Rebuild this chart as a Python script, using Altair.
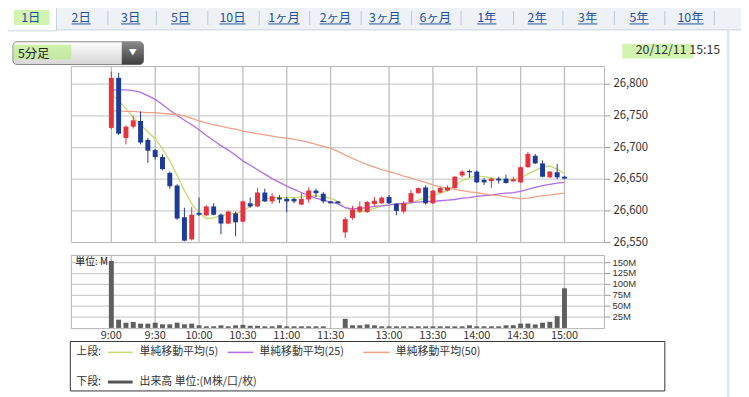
import altair as alt
import pandas as pd

# ---------------- data ----------------
IDX = list(range(63))
OPEN = [26731, 26810, 26715, 26733, 26742, 26712, 26696, 26685, 26660, 26640,
        26590, 26555, 26597, 26593, 26607, 26594, 26580, 26596, 26583, 26612,
        26607, 26629, 26615, 26621, 26619, 26619, 26610, 26618, 26632, 26627,
        26615, 26615, 26566, 26589, 26599, 26598, 26611, 26612, 26622, 26611,
        26599, 26614, 26628, 26637, 26612, 26629, 26632, 26636, 26656, 26663,
        26662, 26649, 26647, 26651, 26651, 26647, 26645, 26669, 26687, 26675,
        26653, 26661, 26654]
CLOSE = [26810, 26722, 26733, 26743, 26708, 26695, 26685, 26666, 26639, 26588,
         26553, 26594, 26594, 26607, 26594, 26580, 26599, 26582, 26615, 26607,
         26629, 26615, 26623, 26618, 26615, 26615, 26619, 26632, 26628, 26615,
         26612, 26612, 26587, 26602, 26607, 26614, 26616, 26621, 26612, 26600,
         26612, 26628, 26636, 26612, 26632, 26636, 26637, 26654, 26662, 26661,
         26645, 26645, 26651, 26648, 26644, 26650, 26669, 26690, 26675, 26654,
         26662, 26653, 26651]
HIGH = [26820, 26818, 26735, 26750, 26757, 26715, 26698, 26689, 26662, 26642,
        26605, 26606, 26621, 26609, 26612, 26596, 26600, 26599, 26616, 26621,
        26636, 26635, 26628, 26625, 26622, 26621, 26628, 26637, 26635, 26630,
        26615, 26615, 26590, 26608, 26615, 26616, 26622, 26623, 26625, 26612,
        26615, 26633, 26637, 26640, 26633, 26638, 26640, 26655, 26664, 26665,
        26664, 26652, 26652, 26654, 26657, 26654, 26670, 26693, 26690, 26680,
        26663, 26674, 26655]
LOW = [26729, 26720, 26705, 26730, 26705, 26676, 26681, 26664, 26635, 26586,
       26552, 26553, 26592, 26592, 26593, 26563, 26579, 26560, 26582, 26605,
       26606, 26614, 26611, 26612, 26598, 26612, 26609, 26613, 26622, 26612,
       26612, 26612, 26557, 26586, 26597, 26597, 26608, 26611, 26611, 26593,
       26596, 26613, 26627, 26610, 26611, 26628, 26631, 26635, 26653, 26653,
       26644, 26641, 26636, 26643, 26643, 26646, 26644, 26668, 26674, 26653,
       26652, 26650, 26650]
VOLUME = [154, 19, 12, 13.6, 9.8, 9.8, 12, 8.3, 8.3, 12,
          8.3, 9.8, 6, 3.7, 3.7, 6, 3.7, 6, 7, 5,
          5, 3.7, 3.7, 6, 3.7, 3.7, 3.7, 3.7, 3.7, 3.7,
          0, 0, 21, 6, 6, 8, 6, 3.7, 3.7, 3.7,
          3.7, 3.7, 3.7, 3.7, 3.7, 3.7, 3.7, 3.7, 3.7, 6,
          3.7, 3.7, 3.7, 3.7, 6, 6, 10, 10, 8, 12,
          14, 27, 91]
MA5 = [26785, 26774, 26761, 26748, 26736, 26725, 26714, 26698, 26679, 26656,
       26632, 26611, 26597, 26588, 26589, 26593, 26594, 26596, 26600, 26607,
       26613, 26618, 26621, 26621, 26621, 26621, 26622, 26623, 26624, 26622,
       26620, 26615, 26605, 26600, 26598, 26600, 26604, 26608, 26610, 26611,
       26610, 26612, 26617, 26621, 26624, 26628, 26632, 26640, 26648, 26653,
       26655, 26654, 26652, 26650, 26649, 26649, 26652, 26658, 26664, 26669,
       26671, 26666, 26659]
MA25 = [26791, 26791, 26791, 26790, 26787, 26782, 26776, 26768, 26759, 26751,
        26743, 26736, 26728, 26719, 26711, 26703, 26696, 26688, 26679, 26672,
        26665, 26658, 26651, 26645, 26639, 26634, 26629, 26624, 26620, 26617,
        26614, 26611, 26605, 26603, 26604, 26605, 26607, 26608, 26609, 26611,
        26612, 26613, 26614, 26615, 26615, 26616, 26617, 26618, 26620, 26621,
        26623, 26624, 26625, 26627, 26628, 26629, 26631, 26634, 26637, 26640,
        26642, 26644, 26645]
MA50 = [26758, 26758, 26757, 26757, 26756, 26755, 26755, 26754, 26753, 26752,
        26750, 26746, 26742, 26739, 26736, 26734, 26731, 26729, 26726, 26724,
        26722, 26720, 26718, 26716, 26715, 26713, 26711, 26708, 26705, 26702,
        26699, 26694, 26688, 26683, 26678, 26673, 26669, 26665, 26662, 26659,
        26655, 26652, 26648, 26645, 26641, 26638, 26636, 26634, 26632, 26630,
        26629, 26627, 26625, 26624, 26622, 26621, 26619, 26620, 26622, 26624,
        26625, 26627, 26628]
TIME_LABELS = ["9:00", "9:30", "10:00", "10:30", "11:00", "11:30",
               "13:00", "13:30", "14:00", "14:30", "15:00"]
TIME_IDX = [0, 6, 12, 18, 24, 30, 38, 44, 50, 56, 62]
PRICE_TICKS = [26550, 26600, 26650, 26700, 26750, 26800]
VOL_TICKS = [25, 50, 75, 100, 125, 150]
TABS = ["1日", "2日", "3日", "5日", "10日", "1ヶ月", "2ヶ月", "3ヶ月",
        "6ヶ月", "1年", "2年", "3年", "5年", "10年"]
MA_NAMES = ["単純移動平均(5)", "単純移動平均(25)", "単純移動平均(50)"]
VOL_NAME = "出来高 単位:(M株/口/枚)"
INTERVAL = "5分足"
STAMP = "20/12/11 15:15"

# ---------------- layout / style ----------------
M = 8  # page margin
def P(v):
    return v - M

FONT = "Noto Sans CJK JP"
RED, BLUE = "#e5323f", "#1d3b98"
MA_COLORS = ["#c5db6c", "#b06de6", "#f0a286"]
GRID = "#cfcfcf"
TAB_X = [31, 82, 132, 182.5, 235, 287, 339, 389, 440, 492, 543, 594, 646, 698]
SEP_X = [109, 158, 210, 262, 313, 365, 416, 466, 519, 569, 621, 672, 722]

XS = alt.Scale(domain=[-4.8, 66.8], range=[P(72), P(611)], nice=False, zero=False)
YP = alt.Scale(domain=[26550, 26828], range=[P(243), P(65)], nice=False, zero=False)
YV = alt.Scale(domain=[0, 166.6], range=[P(329.3), P(256)], nice=False, zero=True)

one = pd.DataFrame({"a": [0]})

def box(x1, x2, y1, y2, **kw):
    return alt.Chart(one).mark_rect(**kw).encode(
        x=alt.value(P(x1)), x2=alt.value(P(x2)), y=alt.value(P(y1)), y2=alt.value(P(y2)))

def hline(x1, x2, y, **kw):
    return alt.Chart(one).mark_rule(**kw).encode(
        x=alt.value(P(x1)), x2=alt.value(P(x2)), y=alt.value(P(y)))

def label(txt, x, y, **kw):
    kw.setdefault("font", FONT)
    return alt.Chart(pd.DataFrame({"t": [txt]})).mark_text(**kw).encode(
        x=alt.value(P(x)), y=alt.value(P(y)), text="t:N")

# ---------------- price panel ----------------
cdf = pd.DataFrame({"i": IDX, "o": OPEN, "h": HIGH, "l": LOW, "c": CLOSE})
cdf["d"] = ["up" if c >= o else "down" for o, c in zip(OPEN, CLOSE)]

pgrid_h = alt.Chart(pd.DataFrame({"p": PRICE_TICKS[1:]})).mark_rule(color=GRID, strokeWidth=1.3).encode(
    y=alt.Y("p:Q", scale=YP, axis=None), x=alt.value(P(72)), x2=alt.value(P(611)))
pticks = alt.Chart(pd.DataFrame({"p": PRICE_TICKS})).mark_rule(color="#999", strokeWidth=1).encode(
    y=alt.Y("p:Q", scale=YP, axis=None), x=alt.value(P(611)), x2=alt.value(P(617)))
pgrid_v = alt.Chart(pd.DataFrame({"i": TIME_IDX})).mark_rule(color="#bdbdbd", strokeWidth=1.3).encode(
    x=alt.X("i:Q", scale=XS, axis=None), y=alt.value(P(65)), y2=alt.value(P(243)))
plabels = alt.Chart(pd.DataFrame({"p": PRICE_TICKS, "t": [f"{p:,}" for p in PRICE_TICKS]})).mark_text(
    font=FONT, fontSize=11.5, color="#333", align="left", baseline="middle").encode(
    y=alt.Y("p:Q", scale=YP, axis=None), x=alt.value(P(620)), text="t:N")

madf = pd.DataFrame({"i": IDX * 3, "v": MA5 + MA25 + MA50,
                     "s": [MA_NAMES[0]] * 63 + [MA_NAMES[1]] * 63 + [MA_NAMES[2]] * 63})
malines = alt.Chart(madf).mark_line(strokeWidth=1.3).encode(
    x=alt.X("i:Q", scale=XS, axis=None), y=alt.Y("v:Q", scale=YP, axis=None),
    color=alt.Color("s:N", scale=alt.Scale(domain=MA_NAMES, range=MA_COLORS), legend=None))

def candle_layers(direction, col):
    base = alt.Chart(cdf).transform_filter(alt.datum.d == direction)
    w = base.mark_rule(strokeWidth=1, color=col).encode(
        x=alt.X("i:Q", scale=XS, axis=None), y=alt.Y("l:Q", scale=YP, axis=None), y2="h:Q")
    b = base.mark_bar(width=5, color=col).encode(
        x=alt.X("i:Q", scale=XS, axis=None), y=alt.Y("o:Q", scale=YP, axis=None), y2="c:Q")
    return [w, b]

price = alt.layer(pgrid_h, pticks, pgrid_v, plabels, malines,
                  *candle_layers("up", RED), *candle_layers("down", BLUE))

# ---------------- volume panel ----------------
vdf = pd.DataFrame({"i": IDX, "v": VOLUME})
vdf = vdf[vdf["v"] > 0]
vgrid_h = alt.Chart(pd.DataFrame({"v": VOL_TICKS})).mark_rule(color=GRID, strokeWidth=1.3).encode(
    y=alt.Y("v:Q", scale=YV, axis=None), x=alt.value(P(72)), x2=alt.value(P(611)))
vticks = alt.Chart(pd.DataFrame({"v": VOL_TICKS})).mark_rule(color="#999", strokeWidth=1).encode(
    y=alt.Y("v:Q", scale=YV, axis=None), x=alt.value(P(611)), x2=alt.value(P(617)))
vgrid_v = alt.Chart(pd.DataFrame({"i": TIME_IDX})).mark_rule(color="#bdbdbd", strokeWidth=1.3).encode(
    x=alt.X("i:Q", scale=XS, axis=None), y=alt.value(P(256)), y2=alt.value(P(330)))
vlabels = alt.Chart(pd.DataFrame({"v": VOL_TICKS, "t": [f"{v}M" for v in VOL_TICKS]})).mark_text(
    font="Liberation Sans", fontSize=9.6, color="#333", align="left", baseline="middle").encode(
    y=alt.Y("v:Q", scale=YV, axis=None), x=alt.value(P(619)), text="t:N")
vbars = alt.Chart(vdf).mark_bar(width=5, color="#5f5f5f").encode(
    x=alt.X("i:Q", scale=XS, axis=None), y=alt.Y("v:Q", scale=YV, axis=None))
tlabels = alt.Chart(pd.DataFrame({"i": TIME_IDX, "t": TIME_LABELS})).mark_text(
    font=FONT, fontSize=11, color="#333", align="center", baseline="middle").encode(
    x=alt.X("i:Q", scale=XS, axis=None), y=alt.value(P(337)), text="t:N")

volume = alt.layer(vgrid_h, vticks, vgrid_v, vlabels, vbars, tlabels)

# ---------------- decorations ----------------
tabs_bg = box(0, 760, 0, 28, fill="#eef2f7")
tab_line = hline(0, 760, 28, color="#c9d3df", strokeWidth=1)
tab_sel = box(2, 57, 3, 29, fill="white", stroke="#c9d3df", strokeWidth=1,
              cornerRadiusTopLeft=3, cornerRadiusTopRight=3)
right_edge = alt.Chart(one).mark_rule(color="#e1e7ef", strokeWidth=3).encode(
    x=alt.value(P(736)), y=alt.value(P(28)), y2=alt.value(P(400)))

tdf = pd.DataFrame({"t": TABS, "x": [P(v) for v in TAB_X]})
tdf["w"] = [sum(6.9 if ch.isdigit() else 12.5 for ch in t) for t in TABS]
tdf["x1"] = tdf["x"] - tdf["w"] / 2
tdf["x2"] = tdf["x"] + tdf["w"] / 2
tab_text = alt.Chart(tdf).mark_text(font=FONT, fontSize=12.5, color="#22509e", baseline="middle").encode(
    x=alt.X("x:Q", scale=None, axis=None), y=alt.value(P(16)), text="t:N")
tab_ul = alt.Chart(tdf.iloc[1:]).mark_rule(color="#22509e", strokeWidth=1).encode(
    x=alt.X("x1:Q", scale=None, axis=None), x2="x2:Q", y=alt.value(P(22)))
seps = alt.Chart(pd.DataFrame({"x": [P(v) for v in SEP_X]})).mark_rule(color="#bcc6d2", strokeWidth=1).encode(
    x=alt.X("x:Q", scale=None, axis=None), y=alt.value(P(9)), y2=alt.value(P(23)))

hl = "#b3ec78"
hl1 = box(14, 50, 8, 23, fill=hl, opacity=0.6)
hl2 = box(14, 72, 43, 58, fill=hl, opacity=0.6)
hl3 = box(629, 701, 42, 57, fill=hl, opacity=0.6)

drop = box(13, 145, 40, 63, cornerRadius=4, stroke="#8a8a8a", strokeWidth=1,
           fill=alt.Gradient(gradient="linear", x1=0, x2=0, y1=0, y2=1,
                             stops=[alt.GradientStop(color="#fdfdfd", offset=0),
                                    alt.GradientStop(color="#d6d6d6", offset=1)]))
dbtn = box(123, 145, 40, 63, cornerRadiusTopRight=4, cornerRadiusBottomRight=4,
           fill=alt.Gradient(gradient="linear", x1=0, x2=0, y1=0, y2=1,
                             stops=[alt.GradientStop(color="#8a8a8a", offset=0),
                                    alt.GradientStop(color="#3e3e3e", offset=1)]))
darrow = label("▼", 134, 51, fontSize=8, color="white", align="center", baseline="middle")
dtext = label(INTERVAL, 18, 52, fontSize=12.5, color="#222", align="left", baseline="middle")
stamp = label(STAMP, 728, 48, fontSize=12.5, color="#333", align="right", baseline="middle")

pframe = box(72, 611, 65, 243, fill="transparent", stroke="#b5b5b5", strokeWidth=1)
vframe = box(72, 611, 256, 330, fill="transparent", stroke="#b5b5b5", strokeWidth=1)
unit = label("単位: M", 76, 263, fontSize=10, color="#111", align="left", baseline="middle")

legend_box = box(71, 672, 343, 393, fill="transparent", stroke="#333", strokeWidth=1)
lg = [
    label("上段:", 77, 354, fontSize=11, color="#333", align="left", baseline="middle"),
    hline(109, 134, 354, color=MA_COLORS[0], strokeWidth=1.5),
    label(MA_NAMES[0], 141, 354, fontSize=11, color="#333", align="left", baseline="middle"),
    hline(230, 256, 354, color=MA_COLORS[1], strokeWidth=1.5),
    label(MA_NAMES[1], 262, 354, fontSize=11, color="#333", align="left", baseline="middle"),
    hline(367, 394, 354, color=MA_COLORS[2], strokeWidth=1.5),
    label(MA_NAMES[2], 400, 354, fontSize=11, color="#333", align="left", baseline="middle"),
    label("下段:", 77, 384, fontSize=11, color="#333", align="left", baseline="middle"),
    hline(109, 134, 384, color="#555", strokeWidth=3),
    label(VOL_NAME, 141, 384, fontSize=11, color="#333", align="left", baseline="middle"),
]

chart = alt.layer(
    tabs_bg, tab_line, tab_sel, seps, hl1, tab_ul, tab_text, right_edge,
    drop, dbtn, darrow, hl2, dtext, hl3, stamp,
    price, pframe, volume, vframe, unit, legend_box, *lg
).resolve_scale(x="independent", y="independent", color="independent").properties(
    width=741, height=389, autosize=alt.AutoSizeParams(type="none"), padding=0,
    background="white"
).configure_view(strokeWidth=0)

chart.save("out.html", embed_options={"renderer": "svg", "actions": False})
